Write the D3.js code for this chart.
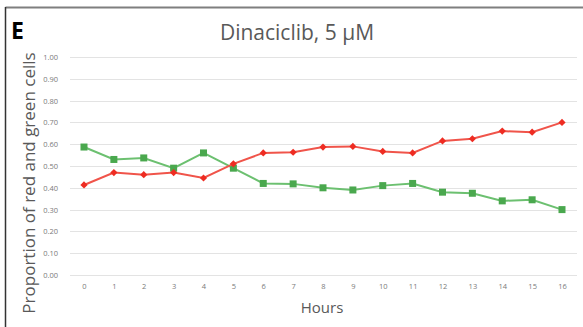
<!DOCTYPE html>
<html>
<head>
<meta charset="utf-8">
<script src="https://cdn.jsdelivr.net/npm/d3@7"></script>
<style>
  html, body { margin: 0; padding: 0; background: #fff; }
  svg { display: block; }
</style>
</head>
<body>
<svg id="chart" width="583" height="327"></svg>
<script>
// Hours sampled and proportion of red / green cells at each hour
const hours = [0, 1, 2, 3, 4, 5, 6, 7, 8, 9, 10, 11, 12, 13, 14, 15, 16];
const redCells = [0.413, 0.470, 0.460, 0.470, 0.445, 0.510, 0.560, 0.563, 0.587, 0.590, 0.567, 0.560, 0.615, 0.625, 0.660, 0.655, 0.700];
const greenCells = [0.587, 0.530, 0.537, 0.490, 0.560, 0.490, 0.420, 0.418, 0.400, 0.390, 0.410, 0.420, 0.380, 0.375, 0.340, 0.345, 0.300];
const yTicks = [0, 0.1, 0.2, 0.3, 0.4, 0.5, 0.6, 0.7, 0.8, 0.9, 1.0];

const svg = d3.select("#chart");
const font = "'Open Sans', 'Noto Sans', sans-serif";

// panel frame (top and left edges)
svg.append("line").attr("x1", 5.5).attr("x2", 583).attr("y1", 7.5).attr("y2", 7.5)
  .attr("stroke", "#7f7f7f").attr("stroke-width", 2);
svg.append("line").attr("x1", 5.5).attr("x2", 5.5).attr("y1", 7).attr("y2", 327)
  .attr("stroke", "#333").attr("stroke-width", 1.5);

const x = d3.scalePoint().domain(hours).range([84, 562]);
const y = d3.scaleLinear().domain([0, 1]).range([275, 57]);

// horizontal gridlines
svg.append("g").selectAll("line").data(yTicks).join("line")
  .attr("x1", 70).attr("x2", 577)
  .attr("y1", d => Math.round(y(d)) + 0.5).attr("y2", d => Math.round(y(d)) + 0.5)
  .attr("stroke", "#e3e3e3").attr("stroke-width", 1);

// y axis labels
const yAxis = d3.axisLeft(y).tickValues(yTicks).tickFormat(d3.format(".2f")).tickSize(0).tickPadding(0);
svg.append("g").attr("transform", "translate(58,0)").call(yAxis)
  .call(g => g.select(".domain").remove())
  .call(g => g.selectAll("text").attr("fill", "#7a7a7a").attr("font-size", 7.5).attr("font-family", font));

// x axis labels
const xAxis = d3.axisBottom(x).tickSize(0).tickPadding(0);
svg.append("g").attr("transform", "translate(0,284)").call(xAxis)
  .call(g => g.select(".domain").remove())
  .call(g => g.selectAll("text").attr("fill", "#7a7a7a").attr("font-size", 7.5).attr("font-family", font));

const line = d3.line().x((d, i) => x(hours[i])).y(d => y(d));

// green series with square markers
svg.append("path").datum(greenCells).attr("d", line)
  .attr("fill", "none").attr("stroke", "#6cc070").attr("stroke-width", 2);
svg.append("g").selectAll("rect").data(greenCells).join("rect")
  .attr("x", (d, i) => x(hours[i]) - 3.5).attr("y", d => y(d) - 3.5)
  .attr("width", 7).attr("height", 7).attr("fill", "#4aa84e");

// red series with diamond markers (square turned 45°)
svg.append("path").datum(redCells).attr("d", line)
  .attr("fill", "none").attr("stroke", "#f0544a").attr("stroke-width", 2);
svg.append("g").selectAll("path.m").data(redCells).join("path")
  .attr("class", "m")
  .attr("d", d3.symbol().type(d3.symbolSquare).size(26))
  .attr("transform", (d, i) => `translate(${x(hours[i])},${y(d)}) rotate(45)`)
  .attr("fill", "#ee2c22");

// titles
svg.append("text").attr("x", 11).attr("y", 39).text("E")
  .attr("font-family", font).attr("font-weight", "bold").attr("font-size", 23).attr("fill", "#000");
svg.append("text").attr("x", 297).attr("y", 40).attr("text-anchor", "middle")
  .text("Dinaciclib, 5 µM")
  .attr("font-family", font).attr("font-size", 21).attr("fill", "#595959");
svg.append("text").attr("x", 322).attr("y", 313).attr("text-anchor", "middle")
  .text("Hours")
  .attr("font-family", font).attr("font-size", 15).attr("fill", "#595959");
svg.append("text").attr("transform", "translate(35,183) rotate(-90)").attr("text-anchor", "middle")
  .text("Proportion of red and green cells")
  .attr("font-family", font).attr("font-size", 17).attr("fill", "#595959");
</script>
</body>
</html>
